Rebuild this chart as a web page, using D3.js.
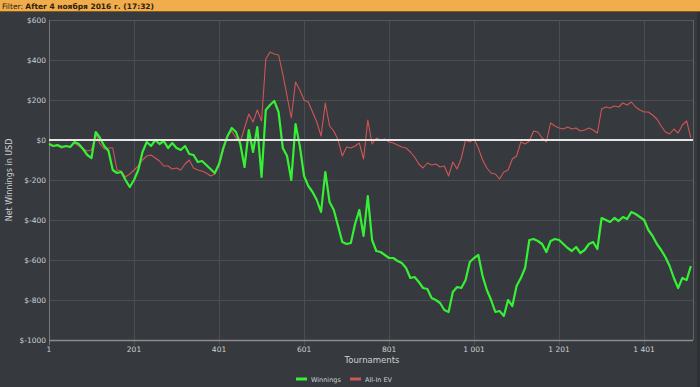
<!DOCTYPE html>
<html>
<head>
<meta charset="utf-8">
<script src="https://cdn.jsdelivr.net/npm/d3@7"></script>
<style>
  html, body { margin: 0; padding: 0; background: #36393d; overflow: hidden; }
  text { font-family: "DejaVu Sans", Verdana, sans-serif; }
</style>
</head>
<body>
<div id="chart"></div>
<script>
"use strict";

// tournaments sampled every 10
const tournaments = d3.range(1, 1512, 10);

const winnings = [
  -20, -30, -25, -35, -30, -35, -10, -20, -45, -75,
  -90, 40, 10, -30, -55, -150, -165, -160, -200, -235,
  -200, -150, -60, -10, -30, 0, -20, -5, -40, -15,
  -40, -50, -30, -70, -75, -110, -105, -125, -145, -165,
  -120, -40, 20, 60, 40, -20, -135, 50, -60, 65,
  -185, 150, 175, 195, 140, -40, -80, -200, 80, -30,
  -180, -230, -260, -300, -360, -160, -310, -350, -430, -510,
  -520, -515, -420, -350, -480, -280, -500, -555, -560, -575,
  -590, -590, -605, -615, -640, -690, -685, -710, -740, -745,
  -790, -800, -815, -850, -860, -760, -735, -740, -700, -610,
  -590, -575, -680, -750, -800, -860, -855, -880, -800, -830,
  -730, -690, -640, -500, -495, -505, -520, -560, -505, -495,
  -500, -520, -540, -555, -535, -565, -550, -520, -510, -545,
  -390, -400, -410, -390, -405, -385, -395, -360, -370, -385,
  -400, -450, -480, -520, -550, -585, -630, -690, -740, -690,
  -700, -630
];

const allInEV = [
  -15, -30, -30, -40, -30, -35, -15, -30, -45, -55,
  -50, 30, -20, -45, -40, -40, -150, -155, -185, -170,
  -150, -130, -100, -80, -75, -90, -105, -130, -130, -145,
  -140, -150, -120, -100, -140, -150, -155, -165, -180, -170,
  -130, -50, 20, 45, 10, -10, 60, 130, 90, 150,
  95, 405, 440, 430, 425, 330, 220, 110, 290, 250,
  200, 190, 140, 90, 20, 185, 70, 45, 0, -80,
  -35, -40, -30, -15, -95, 100, -20, 10, 0, 5,
  -10, -15, -25, -35, -40, -60, -85, -120, -140, -115,
  -125, -120, -135, -130, -180, -110, -145, -90, 0, -10,
  5, -40, -100, -140, -165, -170, -195, -160, -150, -95,
  -80, -10, -20, -5, 45, 40, 10, -10, 85, 70,
  60, 55, 65, 55, 60, 45, 50, 60, 50, 35,
  155, 165, 160, 170, 165, 185, 175, 190, 165, 150,
  140, 140, 125, 105, 70, 40, 30, 55, 35, 75,
  95, 10
];

const yTicks = [600, 400, 200, 0, -200, -400, -600, -800, -1000];
const xTicks = [1, 201, 401, 601, 801, 1001, 1201, 1401];

const seriesNames = ["Winnings", "All-In EV"];
const seriesColors = ["#35f035", "#cf5656"];

const width = 700;
const height = 387;
const margin = { top: 20, right: 7, bottom: 47, left: 49 };

const svg = d3
  .select("#chart")
  .append("svg")
  .attr("width", width)
  .attr("height", height);

svg.append("rect").attr("width", width).attr("height", height).attr("fill", "#36393d");

// filter bar
svg.append("rect").attr("x", 0).attr("y", 0).attr("width", width).attr("height", 11).attr("fill", "#f1ad4b");
svg.append("line").attr("x1", 0).attr("x2", width).attr("y1", 11.5).attr("y2", 11.5).attr("stroke", "#7d5a26");
const filterText = svg.append("text").attr("x", 2).attr("y", 8.5).style("font-size", "7.5px").attr("fill", "#2a2110");
filterText.append("tspan").text("Filter: ");
filterText.append("tspan").style("font-weight", "bold").text("After 4 ноября 2016 г. (17:32)");

// right strip
svg.append("rect").attr("x", 697).attr("y", 12).attr("width", 3).attr("height", height - 12).attr("fill", "#2f3235");

const x = d3.scaleLinear().domain([1, 1516]).range([margin.left, width - margin.right]);
const y = d3.scaleLinear().domain([-1000, 600]).range([height - margin.bottom, margin.top]);

// grid
svg.append("g")
  .selectAll("line")
  .data(yTicks)
  .join("line")
  .attr("x1", margin.left)
  .attr("x2", width - margin.right)
  .attr("y1", (d) => Math.round(y(d)) + 0.5)
  .attr("y2", (d) => Math.round(y(d)) + 0.5)
  .attr("stroke", "#4a4d52");

svg.append("g")
  .selectAll("line")
  .data(xTicks)
  .join("line")
  .attr("x1", (d) => Math.round(x(d)) + 0.5)
  .attr("x2", (d) => Math.round(x(d)) + 0.5)
  .attr("y1", margin.top)
  .attr("y2", y(-1000) + 5)
  .attr("stroke", "#4a4d52");

// border
svg.append("line")
  .attr("x1", margin.left).attr("x2", width - margin.right)
  .attr("y1", margin.top + 0.5).attr("y2", margin.top + 0.5)
  .attr("stroke", "#55585c");
svg.append("line")
  .attr("x1", width - margin.right + 0.5).attr("x2", width - margin.right + 0.5)
  .attr("y1", margin.top).attr("y2", y(-1000))
  .attr("stroke", "#5e6165");
svg.append("line")
  .attr("x1", margin.left + 0.5).attr("x2", margin.left + 0.5)
  .attr("y1", margin.top).attr("y2", y(-1000) + 5)
  .attr("stroke", "#74777b");
svg.append("line")
  .attr("x1", margin.left).attr("x2", width - margin.right)
  .attr("y1", y(-1000) + 0.5).attr("y2", y(-1000) + 0.5)
  .attr("stroke", "#8a8d91")
  .attr("stroke-width", 1.5);

// y labels
svg.append("g")
  .selectAll("text")
  .data(yTicks)
  .join("text")
  .attr("x", margin.left - 3)
  .attr("y", (d) => y(d) + 3)
  .attr("text-anchor", "end")
  .style("font-size", "7.5px")
  .attr("fill", "#cfd1d3")
  .text((d) => "$" + d);

// x labels
svg.append("g")
  .selectAll("text")
  .data(xTicks)
  .join("text")
  .attr("x", (d) => x(d))
  .attr("y", y(-1000) + 12)
  .attr("text-anchor", "middle")
  .style("font-size", "7.5px")
  .attr("fill", "#cfd1d3")
  .text((d) => d3.format(",")(d).replace(",", " "));

svg.append("text")
  .attr("x", 372)
  .attr("y", 363)
  .attr("text-anchor", "middle")
  .style("font-size", "8.5px")
  .attr("fill", "#cfd1d3")
  .text("Tournaments");

svg.append("text")
  .attr("transform", `translate(12, ${y(-200)}) rotate(-90)`)
  .attr("text-anchor", "middle")
  .style("font-size", "8px")
  .attr("fill", "#cfd1d3")
  .text("Net Winnings in USD");

const line = d3
  .line()
  .x((d, i) => x(tournaments[i]))
  .y((d) => y(d));

svg.append("path")
  .datum(allInEV)
  .attr("d", line)
  .attr("fill", "none")
  .attr("stroke", seriesColors[1])
  .attr("stroke-width", 1.1)
  .attr("stroke-linejoin", "round");

svg.append("path")
  .datum(winnings)
  .attr("d", line)
  .attr("fill", "none")
  .attr("stroke", seriesColors[0])
  .attr("stroke-width", 2.2)
  .attr("stroke-linejoin", "round");

// zero line on top
svg.append("line")
  .attr("x1", margin.left)
  .attr("x2", width - margin.right)
  .attr("y1", y(0))
  .attr("y2", y(0))
  .attr("stroke", "#e6e6e6")
  .attr("stroke-width", 2);

// legend
const legendX = [296, 350];
const legend = svg.append("g")
  .selectAll("g")
  .data(seriesNames)
  .join("g")
  .attr("transform", (d, i) => `translate(${legendX[i]}, 379)`);

legend.append("rect")
  .attr("x", 0)
  .attr("y", -1.5)
  .attr("width", 11)
  .attr("height", 3)
  .attr("fill", (d, i) => seriesColors[i]);

legend.append("text")
  .attr("x", 15)
  .attr("y", 2.5)
  .style("font-size", "6.5px")
  .attr("fill", "#cfd1d3")
  .text((d) => d);
</script>
</body>
</html>
